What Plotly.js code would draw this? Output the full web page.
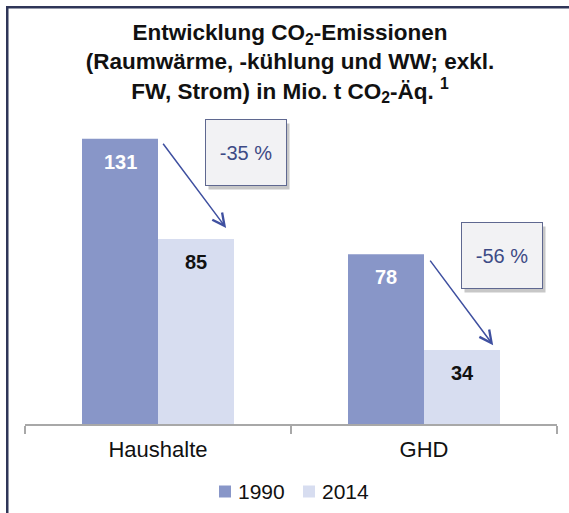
<!DOCTYPE html>
<html>
<head>
<meta charset="utf-8">
<script src="https://cdn.plot.ly/plotly-3.0.1.min.js"></script>
<style>html,body{margin:0;padding:0;background:#fff;}#chart{width:569px;height:513px;}</style>
</head>
<body>
<div id="chart"></div>
<script>
const categories = ['Haushalte', 'GHD'];
const seriesNames = ['1990', '2014'];
const values1990 = [131, 78];
const values2014 = [85, 34];
const changeLabels = ['-35 %', '-56 %'];

const col1990 = '#8896c8';
const col2014 = '#d7ddf0';
const font = 'Liberation Sans, Arial, sans-serif';

const W = 569, H = 513, L = 25, R = 12, T = 130, B = 89;
const pw = W - L - R, ph = H - T - B;
const px2x = p => (p - L) / pw;
const py2y = p => (H - B - p) / ph;

const traces = [
  {type: 'bar', name: seriesNames[0], x: categories, y: values1990,
   marker: {color: col1990}, hoverinfo: 'none', showlegend: false},
  {type: 'bar', name: seriesNames[1], x: categories, y: values2014,
   marker: {color: col2014}, hoverinfo: 'none', showlegend: false}
];

const annotations = [];
// value labels
categories.forEach((c, i) => {
  annotations.push({x: i, y: values1990[i], xref: 'x', yref: 'y', xshift: -38, yshift: -10,
    yanchor: 'top', showarrow: false, text: String(values1990[i]),
    font: {family: font, size: 20, color: '#ffffff', weight: 'bold'}});
  annotations.push({x: i, y: values2014[i], xref: 'x', yref: 'y', xshift: 38, yshift: -10,
    yanchor: 'top', showarrow: false, text: String(values2014[i]),
    font: {family: font, size: 20, color: '#111111', weight: 'bold'}});
});
// arrows from 1990 bar top to 2014 bar top
const arrowTail = [[0.015, values1990[0] - 1.6], [1.019, values1990[1] - 2.3]];
const arrowTip = [[0.256, values2014[0] + 5], [1.26, values2014[1] + 2.2]];
categories.forEach((c, i) => {
  annotations.push({x: arrowTip[i][0], y: arrowTip[i][1], xref: 'x', yref: 'y',
    ax: arrowTail[i][0], ay: arrowTail[i][1], axref: 'x', ayref: 'y',
    showarrow: true, arrowhead: 5, arrowsize: 1.6, arrowwidth: 1.5, arrowcolor: '#3f50a0', text: ''});
});
// callout boxes
const boxPos = [[0.331, 124.5], [1.295, 77.3]];
categories.forEach((c, i) => {
  annotations.push({x: boxPos[i][0], y: boxPos[i][1], xref: 'x', yref: 'y', xshift: 3, yshift: -4,
    showarrow: false, text: ' ', width: 80, height: 65, bgcolor: 'rgba(0,0,0,0.22)', borderpad: 0});
  annotations.push({x: boxPos[i][0], y: boxPos[i][1], xref: 'x', yref: 'y',
    showarrow: false, text: changeLabels[i], width: 80, height: 65,
    bgcolor: '#f2f2f4', bordercolor: '#5f6890', borderwidth: 1, borderpad: 0,
    font: {family: font, size: 20, color: '#3d4a85'}});
});

// legend (drawn manually for tighter symbol/text spacing)
const legendColors = [col1990, col2014];
const legendX = [219, 303];
const legendShapes = [];
seriesNames.forEach((n, i) => {
  legendShapes.push({type: 'rect', xref: 'paper', yref: 'paper',
    x0: px2x(legendX[i]), x1: px2x(legendX[i] + 12), y0: py2y(497.5), y1: py2y(485.5),
    fillcolor: legendColors[i], line: {width: 0}});
  annotations.push({xref: 'paper', yref: 'paper', x: px2x(legendX[i] + 17), y: py2y(491.5),
    xanchor: 'left', yanchor: 'middle', showarrow: false, text: n,
    font: {family: font, size: 21, color: '#111111'}});
});

// outer frame (top and left edges visible)
const frameColor = '#2f3658';
const frameShapes = [
  {type: 'rect', xref: 'paper', yref: 'paper',
   x0: px2x(6), x1: px2x(8.5), y0: py2y(513), y1: py2y(6),
   fillcolor: frameColor, line: {width: 0}},
  {type: 'rect', xref: 'paper', yref: 'paper',
   x0: px2x(6), x1: px2x(569), y0: py2y(8.5), y1: py2y(6),
   fillcolor: frameColor, line: {width: 0}}
];

const layout = {
  width: W, height: H,
  margin: {l: L, r: R, t: T, b: B, pad: 0, autoexpand: false},
  paper_bgcolor: '#ffffff', plot_bgcolor: '#ffffff',
  font: {family: font, color: '#111111'},
  title: {
    text: 'Entwicklung CO<sub>2</sub>-Emissionen<br>(Raumwärme, -kühlung und WW; exkl.<br>FW, Strom) in Mio. t CO<sub>2</sub>-Äq. <sup>1</sup>',
    font: {family: font, size: 22.5, color: '#111111', weight: 'bold'},
    xref: 'container', x: 290 / W, xanchor: 'center',
    yref: 'container', y: 1 - 40 / H, yanchor: 'top'
  },
  barmode: 'group', bargap: 0.4286, bargroupgap: 0,
  xaxis: {
    type: 'category', range: [-0.5, 1.5], fixedrange: true,
    showline: true, linecolor: '#a8a8a8', linewidth: 1.5,
    ticks: 'outside', tickson: 'boundaries', ticklen: 8, tickcolor: '#a8a8a8', tickwidth: 1.5,
    tickfont: {family: font, size: 22, color: '#111111'}, ticklabelstandoff: 5,
    showgrid: false, zeroline: false
  },
  yaxis: {
    range: [0, 135], visible: false, showgrid: false, zeroline: false, fixedrange: true
  },
  showlegend: false,
  annotations: annotations,
  shapes: legendShapes.concat(frameShapes)
};

Plotly.newPlot('chart', traces, layout, {staticPlot: true, displayModeBar: false});
</script>
</body>
</html>
